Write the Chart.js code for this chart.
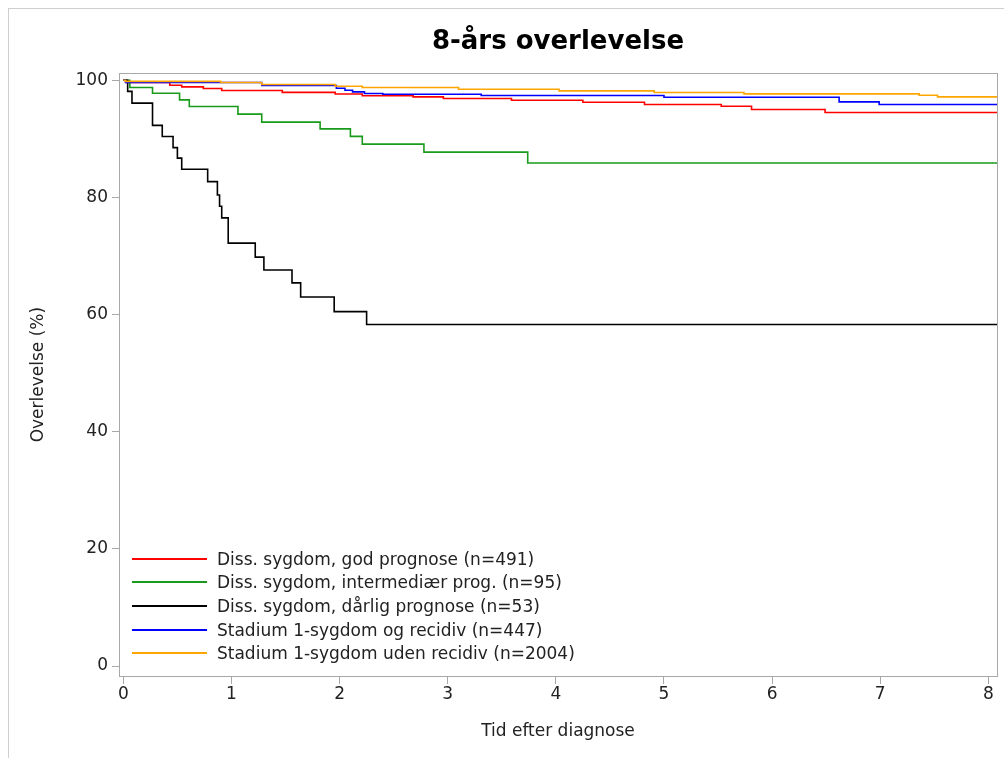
<!DOCTYPE html>
<html lang="da">
<head>
  <meta charset="UTF-8" />
  <title>8-års overlevelse</title>
  <script src="https://cdn.jsdelivr.net/npm/chart.js"></script>
  <style>
    body {
      margin: 0;
      background: #fff;
      font-family: 'DejaVu Sans', sans-serif;
      width: 1004px;
      height: 758px;
      overflow: hidden;
      position: relative;
    }
    #frame {
      position: absolute;
      left: 8px;
      top: 8px;
      right: -2px;
      bottom: -2px;
      border-left: 1px solid #cfcfcf;
      border-top: 1px solid #cfcfcf;
      pointer-events: none;
    }
    #chart {
      position: absolute;
      left: 0;
      top: 0;
    }
    #legend {
      position: absolute;
      left: 132px;
      top: 547px;
      font-size: 17px;
      color: #222;
    }
    .row {
      display: flex;
      align-items: center;
      height: 23.6px;
      white-space: nowrap;
    }
    .swatch {
      width: 75px;
      height: 2px;
      margin-right: 10px;
    }
  </style>
</head>
<body>
  <div id="frame"></div>
  <canvas id="chart" width="1004" height="758"></canvas>
  <div id="legend"></div>

  <script>
    // Kaplan-Meier data (time in years, survival in %)
    const seriesLabels = [
      'Diss. sygdom, god prognose (n=491)',
      'Diss. sygdom, intermediær prog. (n=95)',
      'Diss. sygdom, dårlig prognose (n=53)',
      'Stadium 1-sygdom og recidiv (n=447)',
      'Stadium 1-sygdom uden recidiv (n=2004)'
    ];
    const seriesColors = ['#ff0000', '#1a9a1a', '#000000', '#0000ff', '#ffa500'];

    const godTid = [0, 0.03, 0.43, 0.54, 0.74, 0.91, 1.47, 1.96, 2.21, 2.68, 2.96, 3.59, 4.25, 4.82, 5.53, 5.81, 6.49, 8.08];
    const godOverlevelse = [100, 99.6, 99.15, 98.86, 98.59, 98.25, 97.93, 97.64, 97.36, 97.16, 96.88, 96.59, 96.25, 95.86, 95.57, 95.01, 94.5, 94.5];

    const intermedTid = [0, 0.06, 0.27, 0.52, 0.61, 1.06, 1.28, 1.82, 2.10, 2.21, 2.78, 3.74, 8.08];
    const intermedOverlevelse = [100, 98.76, 97.79, 96.64, 95.52, 94.21, 92.84, 91.7, 90.41, 89.1, 87.73, 85.86, 85.86];

    const daarligTid = [0, 0.04, 0.08, 0.27, 0.36, 0.46, 0.50, 0.54, 0.78, 0.87, 0.89, 0.91, 0.97, 1.22, 1.30, 1.56, 1.64, 1.95, 2.25, 8.08];
    const daarligOverlevelse = [100, 98.1, 96.1, 92.3, 90.4, 88.5, 86.7, 84.8, 82.7, 80.4, 78.5, 76.5, 72.2, 69.8, 67.6, 65.4, 63.0, 60.5, 58.3, 58.3];

    const recidivTid = [0, 0.02, 1.28, 1.97, 2.05, 2.12, 2.23, 2.40, 3.31, 5.00, 6.62, 6.99, 8.08];
    const recidivOverlevelse = [100, 99.6, 99.1, 98.64, 98.3, 98.01, 97.73, 97.61, 97.39, 97.1, 96.3, 95.86, 95.86];

    const udenTid = [0, 0.02, 0.90, 1.28, 1.96, 2.21, 3.10, 4.03, 4.91, 5.74, 7.36, 7.53, 8.08];
    const udenOverlevelse = [100, 99.8, 99.6, 99.27, 98.98, 98.76, 98.47, 98.18, 97.9, 97.67, 97.44, 97.16, 97.16];

    const xTicksStep = 1;
    const yTicksStep = 20;

    const seriesTimes = [godTid, intermedTid, daarligTid, recidivTid, udenTid];
    const seriesSurv = [godOverlevelse, intermedOverlevelse, daarligOverlevelse, recidivOverlevelse, udenOverlevelse];

    function toPoints(times, surv) {
      return times.map((t, i) => ({ x: t, y: surv[i] }));
    }

    // HTML legend inside the plot, lower left
    const legendEl = document.getElementById('legend');
    seriesLabels.forEach((label, i) => {
      const row = document.createElement('div');
      row.className = 'row';
      const sw = document.createElement('span');
      sw.className = 'swatch';
      sw.style.background = seriesColors[i];
      const txt = document.createElement('span');
      txt.textContent = label;
      row.appendChild(sw);
      row.appendChild(txt);
      legendEl.appendChild(row);
    });

    // box around the plot area
    const plotFrame = {
      id: 'plotFrame',
      afterDraw(chart) {
        const { ctx, chartArea } = chart;
        ctx.save();
        ctx.strokeStyle = '#a8a8a8';
        ctx.lineWidth = 1;
        ctx.strokeRect(Math.round(chartArea.left) + 0.5, Math.round(chartArea.top) + 0.5,
          Math.round(chartArea.width), Math.round(chartArea.height));
        ctx.restore();
      }
    };

    Chart.defaults.font.family = "'DejaVu Sans', sans-serif";
    Chart.defaults.font.size = 17;
    Chart.defaults.color = '#222';

    const ctx = document.getElementById('chart').getContext('2d');
    new Chart(ctx, {
      type: 'line',
      data: {
        datasets: seriesLabels.map((label, i) => ({
          label: label,
          data: toPoints(seriesTimes[i], seriesSurv[i]),
          borderColor: seriesColors[i],
          backgroundColor: seriesColors[i],
          borderWidth: 1.6,
          pointRadius: 0,
          stepped: true,
          fill: false,
          order: seriesLabels.length - 1 - i
        }))
      },
      options: {
        responsive: false,
        animation: false,
        layout: { padding: { top: 0, left: 0, right: 7, bottom: 0 } },
        scales: {
          x: {
            type: 'linear',
            min: -0.04,
            max: 8.08,
            afterFit(scale) { scale.height = 82; },
            ticks: { stepSize: xTicksStep, includeBounds: false, padding: 0, color: '#222' },
            grid: { drawOnChartArea: false, tickLength: 8, color: '#a8a8a8' },
            border: { color: '#a8a8a8' },
            title: { display: true, text: 'Tid efter diagnose', color: '#222', padding: { bottom: 16 } }
          },
          y: {
            min: -1.7,
            max: 101.2,
            afterFit(scale) { scale.width = 119; },
            ticks: { stepSize: yTicksStep, includeBounds: false, padding: 4, color: '#222' },
            grid: { drawOnChartArea: false, tickLength: 7, color: '#a8a8a8' },
            border: { color: '#a8a8a8' },
            title: { display: true, text: 'Overlevelse (%)', color: '#222', padding: { top: 28 } }
          }
        },
        plugins: {
          legend: { display: false },
          tooltip: { enabled: false },
          title: {
            display: true,
            text: '8-års overlevelse',
            fullSize: false,
            color: '#000',
            font: { size: 26, weight: 'bold' },
            padding: { top: 27, bottom: 15 }
          }
        }
      },
      plugins: [plotFrame]
    });
  </script>
</body>
</html>
